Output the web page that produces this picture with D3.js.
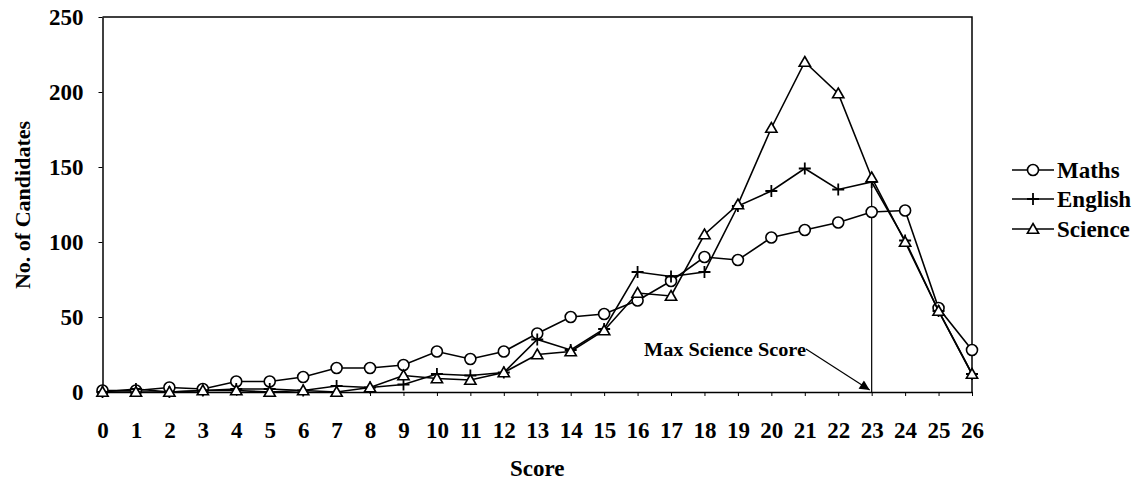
<!DOCTYPE html>
<html>
<head>
<meta charset="utf-8">
<script src="https://cdn.jsdelivr.net/npm/d3@7"></script>
<style>
    body { margin: 0; background: #fff; }
    svg text { font-family: "Liberation Serif", "Times New Roman", serif; font-weight: bold; fill: #000; }
</style>
</head>
<body>
<div id="chart"></div>
<script>
var scores = d3.range(0, 27);
var maths   = [1, 1, 3, 2, 7, 7, 10, 16, 16, 18, 27, 22, 27, 39, 50, 52, 61, 74, 90, 88, 103, 108, 113, 120, 121, 56, 28];
var english = [0, 2, 0, 1, 2, 2, 1, 4, 3, 5, 12, 11, 13, 35, 28, 42, 80, 77, 80, 124, 134, 149, 135, 140, 101, 54, 12];
var science = [0, 0, 0, 1, 1, 0, 1, 0, 3, 11, 9, 8, 13, 25, 27, 41, 66, 64, 105, 125, 176, 220, 199, 143, 100, 54, 12];
var yTicks = [0, 50, 100, 150, 200, 250];
var seriesNames = ["Maths", "English", "Science"];
var maxScienceScore = 23;

var _width = 1145, _height = 483,
    _margins = {top: 17, left: 102.5, right: 173, bottom: 91};

var svg = d3.select("#chart").append("svg")
    .attr("width", _width)
    .attr("height", _height);

var x = d3.scaleLinear().domain([0, 26]).range([_margins.left, _width - _margins.right]);
var y = d3.scaleLinear().domain([0, 250]).range([_height - _margins.bottom, _margins.top]);

// plot frame (top + right)
svg.append("path")
    .attr("d", "M" + x(0) + "," + y(250) + "H" + x(26) + "V" + y(0))
    .attr("fill", "none")
    .attr("stroke", "#000")
    .attr("stroke-width", 1.5);

var xAxis = d3.axisBottom(x).tickValues(scores).tickFormat(d3.format("d"))
    .tickSize(4).tickPadding(26).tickSizeOuter(0);
var yAxis = d3.axisLeft(y).tickValues(yTicks)
    .tickSize(4).tickPadding(15).tickSizeOuter(0);

var xg = svg.append("g")
    .attr("transform", "translate(0," + y(0) + ")")
    .call(xAxis);
var yg = svg.append("g")
    .attr("transform", "translate(" + x(0) + ",0)")
    .call(yAxis);

[xg, yg].forEach(function (g) {
    g.select(".domain").attr("stroke", "#000").attr("stroke-width", 1.5);
    g.selectAll(".tick line").attr("stroke", "#000").attr("stroke-width", 1);
    g.selectAll("text").style("font-size", "23px");
});
yg.selectAll("text").attr("dy", "0.34em");

// axis titles
svg.append("text")
    .attr("x", (x(0) + x(26)) / 2)
    .attr("y", 476)
    .attr("text-anchor", "middle")
    .style("font-size", "23px")
    .text("Score");
svg.append("text")
    .attr("transform", "translate(30,205) rotate(-90)")
    .attr("text-anchor", "middle")
    .style("font-size", "22px")
    .text("No. of Candidates");

// annotation
svg.append("defs").append("marker")
    .attr("id", "arrow")
    .attr("viewBox", "0 0 10 10")
    .attr("refX", 10).attr("refY", 5)
    .attr("markerWidth", 14).attr("markerHeight", 10)
    .attr("markerUnits", "userSpaceOnUse")
    .attr("orient", "auto")
    .append("path")
    .attr("d", "M0,0L10,5L0,10z")
    .attr("fill", "#000");

svg.append("line")
    .attr("x1", x(maxScienceScore)).attr("x2", x(maxScienceScore))
    .attr("y1", y(science[maxScienceScore])).attr("y2", y(0))
    .attr("stroke", "#000").attr("stroke-width", 1.2);
svg.append("line")
    .attr("x1", 806).attr("y1", 349)
    .attr("x2", x(maxScienceScore) - 2).attr("y2", y(0) - 2)
    .attr("stroke", "#000").attr("stroke-width", 1.2)
    .attr("marker-end", "url(#arrow)");
svg.append("text")
    .attr("x", 644)
    .attr("y", 356)
    .attr("textLength", 162)
    .attr("lengthAdjust", "spacingAndGlyphs")
    .style("font-size", "18px")
    .text("Max Science Score");

// series
var data = [maths, english, science];
var line = d3.line()
    .x(function (d, i) { return x(scores[i]); })
    .y(function (d) { return y(d); });

var symbols = [
    d3.symbol().type(d3.symbolCircle).size(95),
    null,
    d3.symbol().type(d3.symbolTriangle).size(55)
];

function drawMarker(g, k, cx, cy) {
    if (k === 1) {
        g.append("path")
            .attr("d", "M" + (cx - 6) + "," + cy + "H" + (cx + 6) + "M" + cx + "," + (cy - 6) + "V" + (cy + 6))
            .attr("stroke", "#000").attr("stroke-width", 1.8).attr("fill", "none");
    } else {
        g.append("path")
            .attr("d", symbols[k]())
            .attr("transform", "translate(" + cx + "," + (k === 2 ? cy + 1 : cy) + ")")
            .attr("fill", "#fff").attr("stroke", "#000").attr("stroke-width", 1.6);
    }
}

data.forEach(function (values, k) {
    var g = svg.append("g").attr("class", "series");
    g.append("path")
        .datum(values)
        .attr("d", line)
        .attr("fill", "none")
        .attr("stroke", "#000")
        .attr("stroke-width", 1.6);
    values.forEach(function (v, i) {
        drawMarker(g, k, x(scores[i]), y(v));
    });
});

// legend
var legendY = [170, 199, 229];
seriesNames.forEach(function (name, k) {
    var g = svg.append("g");
    g.append("line")
        .attr("x1", 1012).attr("x2", 1054)
        .attr("y1", legendY[k]).attr("y2", legendY[k])
        .attr("stroke", "#000").attr("stroke-width", 1.6);
    drawMarker(g, k, 1033, legendY[k]);
    g.append("text")
        .attr("x", 1057)
        .attr("y", legendY[k])
        .attr("dy", "0.35em")
        .style("font-size", "23px")
        .text(name);
});
</script>
</body>
</html>
